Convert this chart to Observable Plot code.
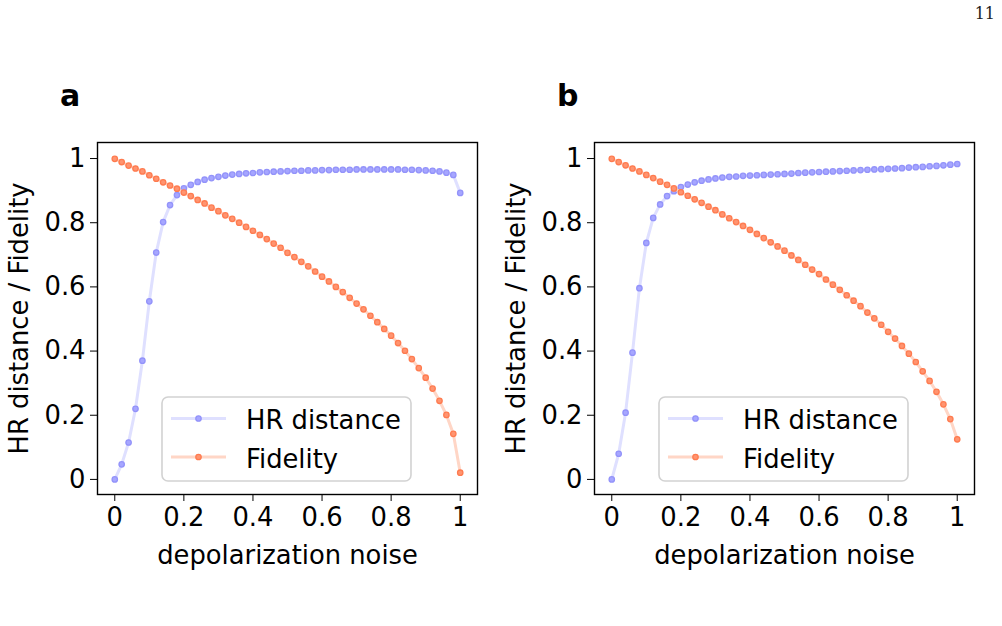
<!DOCTYPE html>
<html>
<head>
<meta charset="utf-8">
<script src="https://cdn.jsdelivr.net/npm/d3@7"></script>
<script src="https://cdn.jsdelivr.net/npm/@observablehq/plot@0.6"></script>
<style>
  body { margin: 0; background: #fff; }
  #page { position: relative; width: 1002px; height: 626px; overflow: hidden; font-family: "DejaVu Sans", sans-serif; }
  .panel { position: absolute; top: 0; }
  .tag { position: absolute; font-weight: bold; font-size: 30px; line-height: 1; }
  .pageno { position: absolute; right: 7px; top: 4px; font-family: "DejaVu Serif", serif; font-size: 16px; color: #222; }
  .legend { position: absolute; }
</style>
</head>
<body>
<div id="page">
  <div class="pageno">11</div>
</div>
<script>
// Depolarization noise levels (shared by both panels)
const noise = [0, 0.02, 0.04, 0.06, 0.08, 0.1, 0.12, 0.14, 0.16, 0.18, 0.2,
  0.22, 0.24, 0.26, 0.28, 0.3, 0.32, 0.34, 0.36, 0.38, 0.4,
  0.42, 0.44, 0.46, 0.48, 0.5, 0.52, 0.54, 0.56, 0.58, 0.6,
  0.62, 0.64, 0.66, 0.68, 0.7, 0.72, 0.74, 0.76, 0.78, 0.8,
  0.82, 0.84, 0.86, 0.88, 0.9, 0.92, 0.94, 0.96, 0.98, 1];

// Panel a
const hrA = [0, 0.047, 0.115, 0.22, 0.37, 0.555, 0.707, 0.802, 0.855, 0.886, 0.907,
  0.918, 0.927, 0.934, 0.939, 0.943, 0.947, 0.95, 0.952, 0.954, 0.955,
  0.957, 0.958, 0.959, 0.96, 0.961, 0.962, 0.962, 0.963, 0.963, 0.964,
  0.964, 0.965, 0.965, 0.965, 0.966, 0.966, 0.966, 0.966, 0.966, 0.966,
  0.966, 0.965, 0.965, 0.964, 0.963, 0.962, 0.96, 0.956, 0.949, 0.893];
const fidA = [0.999, 0.989, 0.978, 0.969, 0.96, 0.948, 0.937, 0.926, 0.916, 0.906, 0.894,
  0.883, 0.871, 0.86, 0.847, 0.836, 0.823, 0.812, 0.8, 0.787, 0.775,
  0.762, 0.749, 0.735, 0.722, 0.706, 0.693, 0.678, 0.664, 0.648, 0.632,
  0.617, 0.6, 0.584, 0.566, 0.548, 0.53, 0.51, 0.49, 0.469, 0.448,
  0.425, 0.401, 0.375, 0.347, 0.317, 0.283, 0.245, 0.201, 0.142, 0.021];

// Panel b
const hrB = [0, 0.08, 0.208, 0.395, 0.596, 0.737, 0.815, 0.857, 0.883, 0.898, 0.911,
  0.919, 0.926, 0.931, 0.935, 0.938, 0.941, 0.943, 0.944, 0.946, 0.947,
  0.948, 0.949, 0.95, 0.951, 0.952, 0.953, 0.955, 0.956, 0.957, 0.958,
  0.959, 0.96, 0.961, 0.962, 0.963, 0.964, 0.965, 0.966, 0.967, 0.968,
  0.969, 0.97, 0.972, 0.973, 0.974, 0.976, 0.977, 0.979, 0.981, 0.983];
const fidB = [0.999, 0.989, 0.979, 0.969, 0.96, 0.949, 0.939, 0.928, 0.918, 0.907, 0.895,
  0.884, 0.873, 0.862, 0.85, 0.839, 0.826, 0.814, 0.802, 0.79, 0.778,
  0.765, 0.752, 0.739, 0.726, 0.713, 0.698, 0.684, 0.669, 0.654, 0.64,
  0.623, 0.607, 0.591, 0.574, 0.557, 0.54, 0.52, 0.502, 0.482, 0.46,
  0.439, 0.416, 0.392, 0.366, 0.337, 0.307, 0.273, 0.234, 0.188, 0.125];

const ticks = [0, 0.2, 0.4, 0.6, 0.8, 1];
const seriesNames = ["HR distance", "Fidelity"];
const panelTags = ["a", "b"];

const style = {
  hr: { line: "#dfe0ff", fill: "#a6a6ff", stroke: "#9393fa" },
  fid: { line: "#ffd6c6", fill: "#ff9470", stroke: "#ff7b4f" }
};
const FONT = 25.8;

function panel(hr, fid) {
  const rows = noise.map((x, i) => ({ x, hr: hr[i], fid: fid[i] }));
  return Plot.plot({
    width: 500, height: 626,
    marginLeft: 97, marginRight: 23, marginTop: 142, marginBottom: 132,
    style: { fontFamily: "'DejaVu Sans', sans-serif", fontSize: FONT + "px", color: "#000", background: "transparent", overflow: "visible" },
    x: { domain: [-0.05, 1.05] },
    y: { domain: [-0.047, 1.05] },
    marks: [
      Plot.axisX({ ticks, tickFormat: d => String(d), tickSize: 7, tickPadding: 6, fontSize: FONT,
        label: "depolarization noise", labelAnchor: "center", labelOffset: 69, labelArrow: "none" }),
      Plot.axisY({ ticks, tickFormat: d => String(d), tickSize: 7, tickPadding: 5, fontSize: FONT,
        label: "HR distance / Fidelity", labelAnchor: "center", labelOffset: 88, labelArrow: "none" }),
      Plot.line(rows, { x: "x", y: "hr", stroke: style.hr.line, strokeWidth: 3 }),
      Plot.dot(rows, { x: "x", y: "hr", r: 2.7, fill: style.hr.fill, stroke: style.hr.stroke, strokeWidth: 1.3 }),
      Plot.line(rows, { x: "x", y: "fid", stroke: style.fid.line, strokeWidth: 3 }),
      Plot.dot(rows, { x: "x", y: "fid", r: 2.7, fill: style.fid.fill, stroke: style.fid.stroke, strokeWidth: 1.3 }),
      Plot.frame({ stroke: "#000", strokeWidth: 1.4 })
    ]
  });
}

// Legend box: line sample with a marker, then the series name
function legend() {
  const svg = d3.create("svg").attr("width", 252).attr("height", 87)
    .style("font-family", "'DejaVu Sans', sans-serif").style("font-size", FONT + "px");
  svg.append("rect").attr("x", 1).attr("y", 1).attr("width", 249).attr("height", 84)
    .attr("rx", 6).attr("fill", "#fff").attr("fill-opacity", 0.85)
    .attr("stroke", "#d2d2d2").attr("stroke-width", 1.6);
  [style.hr, style.fid].forEach((s, i) => {
    const cy = 22.5 + i * 38.5;
    svg.append("line").attr("x1", 10).attr("x2", 65).attr("y1", cy).attr("y2", cy)
      .attr("stroke", s.line).attr("stroke-width", 3);
    svg.append("circle").attr("cx", 37.5).attr("cy", cy).attr("r", 2.7)
      .attr("fill", s.fill).attr("stroke", s.stroke).attr("stroke-width", 1.3);
    svg.append("text").attr("x", 85).attr("y", cy + 10.5).text(seriesNames[i]);
  });
  return svg.node();
}

const page = document.getElementById("page");
[[hrA, fidA], [hrB, fidB]].forEach(([hr, fid], k) => {
  const left = k * 497;
  const wrap = document.createElement("div");
  wrap.className = "panel";
  wrap.style.left = left + "px";
  wrap.appendChild(panel(hr, fid));
  page.appendChild(wrap);

  const tag = document.createElement("div");
  tag.className = "tag";
  tag.style.left = (left + 60) + "px";
  tag.style.top = "81px";
  tag.textContent = panelTags[k];
  page.appendChild(tag);

  const lg = document.createElement("div");
  lg.className = "legend";
  lg.style.left = (left + 161) + "px";
  lg.style.top = "396px";
  lg.appendChild(legend());
  page.appendChild(lg);
});
</script>
</body>
</html>
